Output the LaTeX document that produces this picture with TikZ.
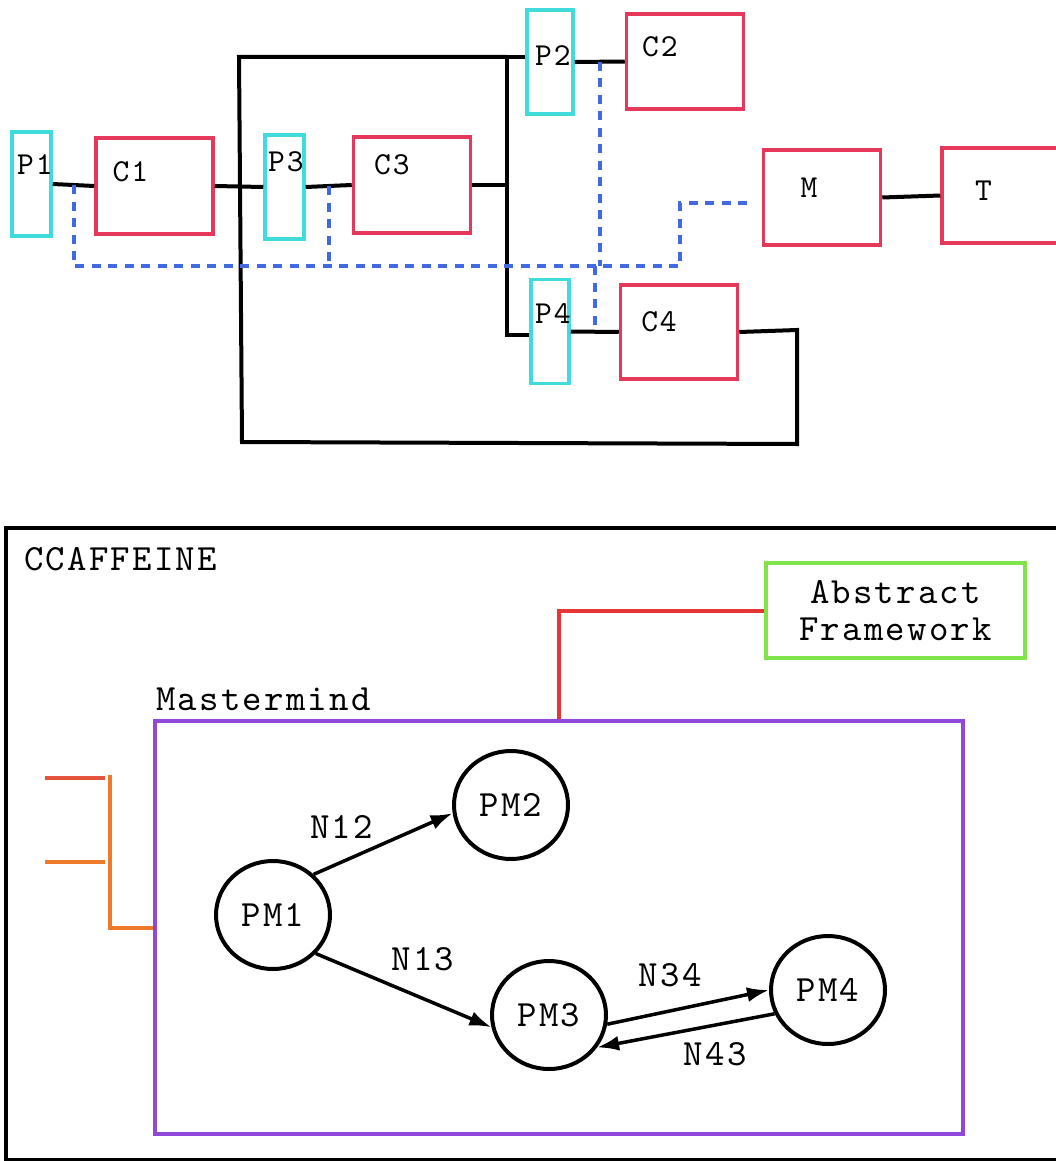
\documentclass[tikz,border=0pt]{standalone}
\usepackage{fontspec}
\setmonofont{lmmono10-regular.otf}[LetterSpace=6]
\usetikzlibrary{shapes.geometric,arrows.meta,calc}
\definecolor{portc}{HTML}{40DCDC}
\definecolor{compc}{HTML}{E6385A}
\definecolor{sigc}{HTML}{4169E1}
\definecolor{frmc}{HTML}{80E34A}
\definecolor{mmc}{HTML}{9147D9}
\definecolor{linkc}{HTML}{E53535}
\definecolor{orgc}{HTML}{EE7A2A}
\definecolor{redorgc}{HTML}{E5533F}
\begin{document}
\begin{tikzpicture}[x=1pt,y=-1pt,
    every label/.style={font=\ttfamily\fontsize{32}{34}\selectfont,inner sep=0pt},
    port/.style={draw=portc,line width=3.5pt,minimum width=39pt,minimum height=104pt,inner sep=0pt},
    comp/.style={draw=compc,line width=3.5pt,minimum width=117pt,minimum height=96pt,inner sep=0pt},
    wire/.style={line width=4pt},
    sig/.style={draw=sigc,line width=4pt,dash pattern=on 9pt off 7.5pt},
    title/.style={font=\ttfamily\fontsize{37}{37}\selectfont},
    pm/.style={draw,ellipse,line width=4pt,minimum width=114pt,minimum height=108pt,inner sep=1pt,title},
    lbl/.style={title,inner sep=2pt},
    >={Latex[length=22pt,width=15pt]}
]
\useasboundingbox (0,0) rectangle (1055,1161);

% ports and components
\node[port,label={[xshift=3.5pt,yshift=19pt]center:P1}] (P1) at (31.5,184) {};
\node[comp,label={[xshift=-24pt,yshift=14pt]center:C1}] (C1) at (154.5,186) {};
\node[port,label={[xshift=1.5pt,yshift=25pt]center:P3}] (P3) at (284.5,187) {};
\node[comp,label={[xshift=-20pt,yshift=20pt]center:C3}] (C3) at (412,185) {};
\node[port,minimum width=46pt,label={[xshift=3pt,yshift=6pt]center:P2}] (P2) at (550,62) {};
\node[comp,minimum height=95pt,label={[xshift=-25pt,yshift=15pt]center:C2}] (C2) at (685,61.5) {};
\node[port,minimum width=38pt,label={[xshift=3pt,yshift=18pt]center:P4}] (P4) at (550,331.5) {};
\node[comp,minimum height=94pt,label={[xshift=-20pt,yshift=10pt]center:C4}] (C4) at (679,332) {};
\node[comp,minimum height=95pt,label={[xshift=-13pt,yshift=10pt]center:M}] (M) at (822,197.5) {};
\node[comp,minimum height=95pt,label={[xshift=-17pt,yshift=5pt]center:T}] (T) at (1000.5,195.5) {};

\draw[wire] (P1.east) -- (C1.west);
\draw[wire] (C1.east) -- (P3.west);
\draw[wire] (P3.east) -- (C3.west);
\draw[wire] (P2.east) -- (C2.west);
\draw[wire] (P4.east) -- (C4.west);
\draw[wire] (M.east) -- (T.west);

% bus and loop
\coordinate (busT) at (507,57);
\coordinate (busB) at (507,335);
\coordinate (loopA) at (239,57);
\coordinate (loopB) at (242,442);
\coordinate (loopC) at (797,444);
\coordinate (loopD) at (797,330);
\draw[wire] (C3.east) -- (C3.east -| busT);
\draw[wire] (P2.west |- busT) -- (busT) -- (busB) -- (P4.west |- busB);
\draw[wire] (busT) -- (loopA) -- (loopB) -- (loopC) -- (loopD) -- (C4.east);

% signal lines
\coordinate (s1) at ($(P1.east)!.5!(C1.west)$);
\coordinate (s3) at ($(P3.east)!.5!(C3.west)$);
\coordinate (s2) at ($(P2.east)!.5!(C2.west)$);
\coordinate (s4) at ($(P4.east)!.5!(C4.west)$);
\coordinate (sbus) at (0,266);
\coordinate (sturn) at (680,266);
\coordinate (sM) at (750,203);
\draw[sig] (s1) -- (s1 |- sbus) -- (sturn) -- (sturn |- sM) -- (sM);
\draw[sig] (s3) -- (s3 |- sbus);
\draw[sig] (s2) -- (s2 |- sbus);
\draw[sig] (s4 |- sbus) -- (s4);

% framework
\node[draw,line width=3.5pt,minimum width=1058pt,minimum height=632pt] (ccaf) at (535,844) {};
\node[title,anchor=base west,inner sep=0pt] (ccaflbl) at (24,570) {CCAFFEINE};
\node[draw=frmc,line width=4pt,minimum width=259pt,minimum height=95pt,align=center,title] (AF) at (895.5,610.5) {Abstract\\Framework};
\node[draw=mmc,line width=4pt,minimum width=808pt,minimum height=413pt] (mm) at (559,927.5) {};
\node[title,anchor=base west,inner sep=0pt] (mmlbl) at (156,710) {Mastermind};

\draw[linkc,line width=4pt] (AF.west) -| (mm.north);
\coordinate (in1) at (45,778);
\coordinate (in2) at (45,862);
\coordinate (inJ) at (110,775);
\draw[redorgc,line width=4pt] (in1) -- ++(60,0);
\draw[orgc,line width=4pt] (in2) -- ++(60,0);
\draw[orgc,line width=4pt] (inJ) |- (mm.west);

% process managers
\node[pm] (PM1) at (273,915) {PM1};
\node[pm] (PM2) at (511,805) {PM2};
\node[pm] (PM3) at (549,1015) {PM3};
\node[pm] (PM4) at (828,990) {PM4};

\draw[->,line width=3.5pt] (PM1.45) -- (PM2.188) node[lbl,pos=.2,above=20pt] {N12};
\draw[->,line width=3.5pt] (PM1.318) -- (PM3.192) node[lbl,pos=.61,above=24pt] {N13};
\draw[->,line width=3.5pt] (PM3.351) -- (PM4.180) node[lbl,pos=.39,above=20pt] {N34};
\draw[->,line width=3.5pt] (PM4.204) -- (PM3.326) node[lbl,pos=.335,below=14pt] {N43};
\end{tikzpicture}
\end{document}
